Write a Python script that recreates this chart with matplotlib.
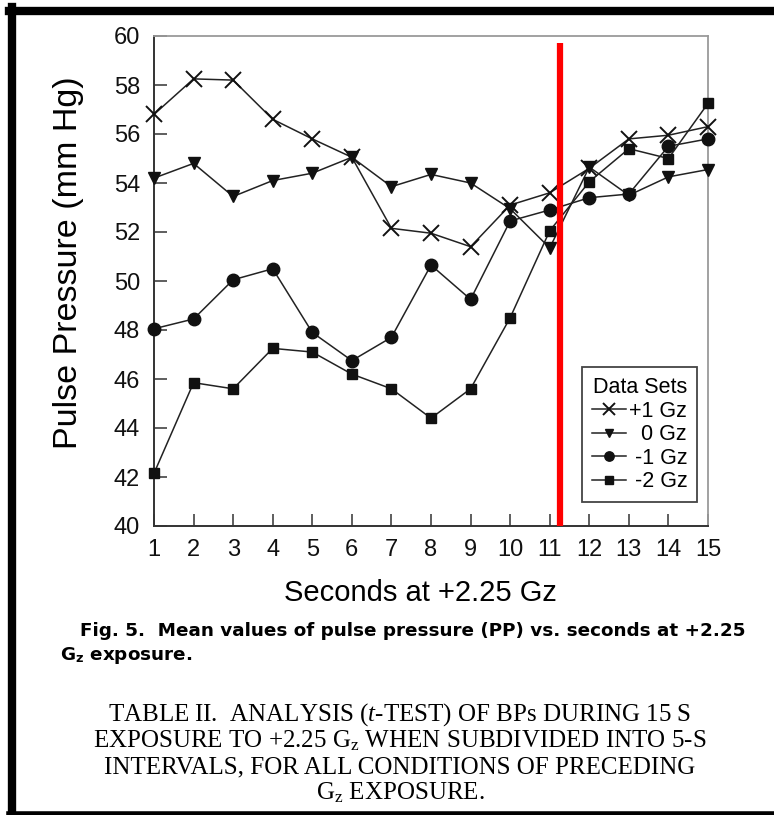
import matplotlib
matplotlib.use("Agg")
import matplotlib.pyplot as plt
from matplotlib.lines import Line2D

seconds = list(range(1, 16))
plus1 = [56.8, 58.25, 58.2, 56.6, 55.8, 55.05, 52.15, 51.95, 51.4, 53.1, 53.6, 54.6, 55.8, 55.95, 56.3]
zero = [54.2, 54.8, 53.45, 54.1, 54.4, 55.05, 53.85, 54.35, 54.0, 52.95, 51.35, 54.65, 53.5, 54.25, 54.55]
minus1 = [48.05, 48.45, 50.05, 50.5, 47.9, 46.75, 47.7, 50.65, 49.25, 52.45, 52.9, 53.4, 53.55, 55.5, 55.8]
minus2 = [42.15, 45.85, 45.6, 47.25, 47.1, 46.2, 45.6, 44.4, 45.6, 48.5, 52.05, 54.05, 55.4, 55.0, 57.25]
series_labels = ["+1 Gz", "  0 Gz", " -1 Gz", " -2 Gz"]
yticks = list(range(40, 61, 2))
marker_x = 11.25

plt.rcParams["mathtext.fontset"] = "custom"
plt.rcParams["mathtext.rm"] = "Liberation Serif"
plt.rcParams["mathtext.it"] = "Liberation Serif:italic"

W, H = 774, 815
fig = plt.figure(figsize=(W / 100, H / 100), dpi=100)
fig.patch.set_facecolor("white")

ax = fig.add_axes([154 / W, 1 - 526 / H, 554 / W, 490 / H])
lc = "#222222"
ax.plot(seconds, plus1, color=lc, lw=1.1, marker="x", ms=11, mew=1.4, mec="#111111", label=series_labels[0], clip_on=False, zorder=3)
ax.plot(seconds, zero, color=lc, lw=1.1, marker="v", ms=8, mfc="#111111", mec="#111111", label=series_labels[1], clip_on=False, zorder=3)
ax.plot(seconds, minus1, color=lc, lw=1.1, marker="o", ms=9, mfc="#111111", mec="#111111", label=series_labels[2], clip_on=False, zorder=3)
ax.plot(seconds, minus2, color=lc, lw=1.1, marker="s", ms=7, mfc="#111111", mec="#111111", label=series_labels[3], clip_on=False, zorder=3)

ax.vlines(marker_x, 40, 59.7, color="#ff0000", lw=4.5, zorder=4)

ax.set_xlim(1, 15)
ax.set_ylim(40, 60)
ax.set_xticks(seconds)
ax.set_yticks(yticks)
tf = dict(family="Liberation Sans", size=17, color="#111111")
ax.set_xticklabels([str(s) for s in seconds], fontdict=tf)
ax.set_yticklabels([str(v) for v in yticks], fontdict=tf)
ax.tick_params(direction="in", length=9, width=1.1, color="#333333", pad=10)
ax.tick_params(axis="x", pad=9)
for side in ["left", "bottom"]:
    ax.spines[side].set_color("#333333")
    ax.spines[side].set_linewidth(1.4)
for side in ["top", "right"]:
    ax.spines[side].set_color("#9a9a9a")
    ax.spines[side].set_linewidth(1.3)

ax.set_ylabel("Pulse Pressure (mm Hg)", family="Liberation Sans", size=24.5, va="center")
ax.yaxis.set_label_coords((69 - 154) / 554, (526 - 263) / 490)
ax.set_xlabel("Seconds at +2.25 Gz", family="Liberation Sans", size=21, va="center")
ax.xaxis.set_label_coords((420 - 154) / 554, (526 - 593) / 490)

leg = ax.legend(loc="lower right", bbox_to_anchor=((697 - 154) / 554, (526 - 502) / 490), title="Data Sets",
                prop=dict(family="Liberation Sans", size=15.5), title_fontproperties=dict(family="Liberation Sans", size=15.5),
                frameon=True, fancybox=False, edgecolor="#444444", handlelength=1.6, handletextpad=0.1,
                labelspacing=0.12, borderpad=0.45, borderaxespad=0, markerscale=0.75, framealpha=1)
leg.get_frame().set_linewidth(1.3)

fig.text(80 / W, 1 - 631 / H, "Fig. 5.  Mean values of pulse pressure (PP) vs. seconds at +2.25",
         family="DejaVu Sans", weight="bold", size=13.2, va="center", ha="left")
fig.text(60 / W, 1 - 656 / H, "G$_{\\mathregular{z}}$ exposure.", family="DejaVu Sans", weight="bold", size=13.2, va="center", ha="left")

table_lines = [
    "TABLE II.  ANALYSIS ($\\mathit{t}$-TEST) OF BPs DURING 15 S",
    "EXPOSURE TO +2.25 G$_{\\mathregular{z}}$ WHEN SUBDIVIDED INTO 5-S",
    "INTERVALS, FOR ALL CONDITIONS OF PRECEDING",
    "G$_{\\mathregular{z}}$ EXPOSURE.",
]
for i, t in enumerate(table_lines):
    fig.text(400 / W, 1 - (715 + 26 * i) / H, t, family="Liberation Serif", size=18, va="center", ha="center")

# black frame
fig.add_artist(Line2D([9 / W, 1], [1 - 11 / H, 1 - 11 / H], transform=fig.transFigure, color="black", lw=6))
fig.add_artist(Line2D([12.5 / W, 12.5 / W], [1 - 7 / H, 0], transform=fig.transFigure, color="black", lw=6))
fig.add_artist(Line2D([9 / W, 1], [1 - 814 / H, 1 - 814 / H], transform=fig.transFigure, color="black", lw=4))

fig.savefig("out.png", dpi=100)
